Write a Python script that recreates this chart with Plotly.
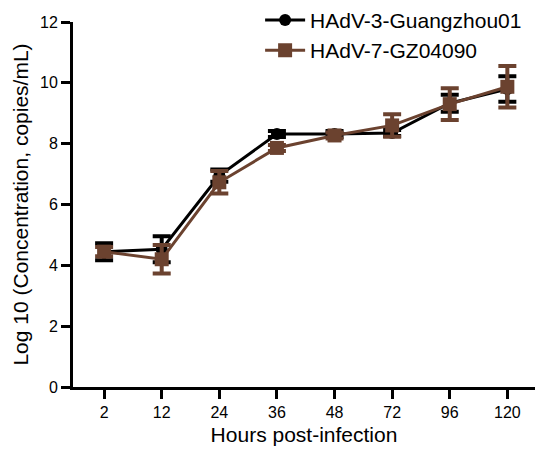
import plotly.graph_objects as go

hours = ["2", "12", "24", "36", "48", "72", "96", "120"]
y_ticks = [0, 2, 4, 6, 8, 10, 12]

hadv3_name = "HAdV-3-Guangzhou01"
hadv3_mean = [4.45, 4.53, 6.95, 8.32, 8.32, 8.35, 9.33, 9.80]
hadv3_err = [0.28, 0.43, 0.20, 0.10, 0.10, 0.10, 0.28, 0.42]

hadv7_name = "HAdV-7-GZ04090"
hadv7_mean = [4.45, 4.20, 6.73, 7.86, 8.27, 8.60, 9.30, 9.87]
hadv7_err = [0.15, 0.47, 0.37, 0.10, 0.10, 0.37, 0.52, 0.68]

BLACK = "#000000"
BROWN = "rgb(107,66,47)"
FONT = "Liberation Sans, Arial, sans-serif"

fig = go.Figure()
fig.add_trace(go.Scatter(
    x=hours, y=hadv3_mean, name=hadv3_name, mode="lines+markers",
    line=dict(color=BLACK, width=3),
    marker=dict(symbol="circle", size=12, color=BLACK),
    error_y=dict(type="data", array=hadv3_err, visible=True,
                 color=BLACK, thickness=4, width=9),
))
fig.add_trace(go.Scatter(
    x=hours, y=hadv7_mean, name=hadv7_name, mode="lines+markers",
    line=dict(color=BROWN, width=3),
    marker=dict(symbol="square", size=14, color=BROWN),
    error_y=dict(type="data", array=hadv7_err, visible=True,
                 color=BROWN, thickness=4, width=9),
))

fig.update_layout(
    width=535, height=449,
    margin=dict(l=73, r=0, t=22, b=62, autoexpand=False),
    paper_bgcolor="white", plot_bgcolor="white",
    font=dict(family=FONT, color="black", size=16),
    showlegend=True,
    legend=dict(x=0.405, y=1.061, xanchor="left", yanchor="top",
                font=dict(size=21, family=FONT), bgcolor="rgba(0,0,0,0)",
                tracegroupgap=0, itemwidth=40),
    xaxis=dict(
        type="category", categoryorder="array", categoryarray=hours,
        range=[-0.54, 7.48],
        showline=True, linecolor="black", linewidth=3,
        ticks="outside", ticklen=9, tickwidth=3, tickcolor="black",
        showgrid=False, zeroline=False,
        tickfont=dict(size=16),
        title=dict(text="Hours post-infection", font=dict(size=21), standoff=8),
    ),
    yaxis=dict(
        range=[0, 12], tickvals=y_ticks,
        showline=True, linecolor="black", linewidth=3,
        ticks="outside", ticklen=9, tickwidth=3, tickcolor="black",
        showgrid=False, zeroline=False,
        tickfont=dict(size=16),
        title=dict(text="Log 10 (Concentration, copies/mL)", font=dict(size=21), standoff=6),
    ),
)

fig.write_html("out.html")
